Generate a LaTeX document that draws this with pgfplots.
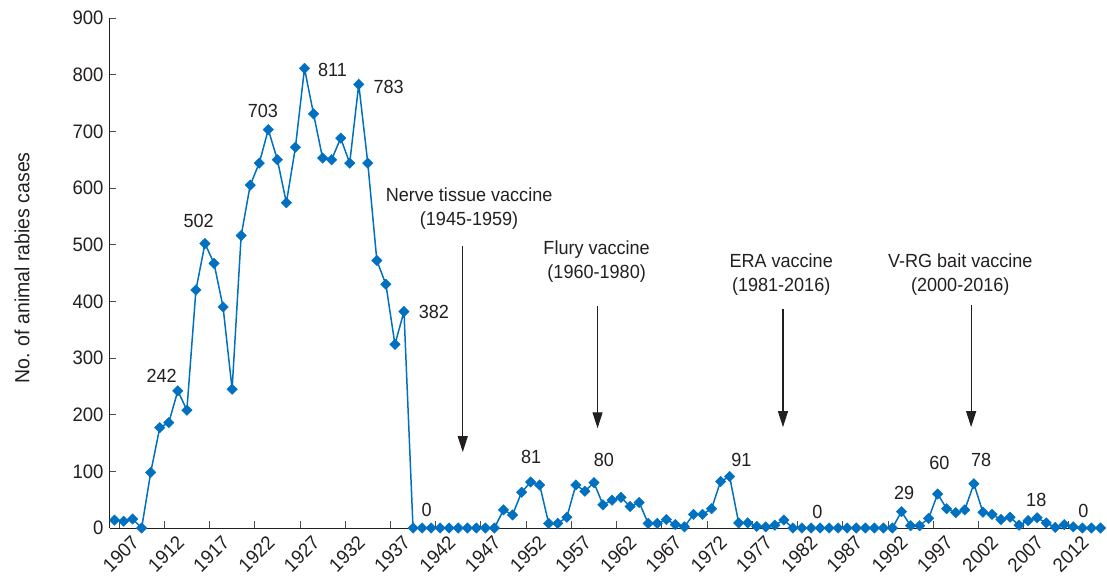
\documentclass[border=0pt]{standalone}
\usepackage{fontspec}
\setmainfont{Liberation Sans}[FakeStretch=0.95]
\usepackage{pgfplots}
\pgfplotsset{compat=1.18}
\usepackage{pgfplotstable}
\usetikzlibrary{arrows.meta}
\definecolor{ser}{RGB}{0,112,192}
\definecolor{txt}{RGB}{35,31,32}

\pgfplotstableread{
year val
1907 14
1908 12
1909 16
1910 0
1911 98
1912 177
1913 186
1914 242
1915 208
1916 420
1917 502
1918 467
1919 390
1920 245
1921 516
1922 605
1923 644
1924 703
1925 650
1926 574
1927 672
1928 811
1929 731
1930 653
1931 650
1932 688
1933 644
1934 783
1935 644
1936 472
1937 430
1938 324
1939 382
1940 0
1941 0
1942 0
1943 0
1944 0
1945 0
1946 0
1947 0
1948 0
1949 0
1950 32
1951 23
1952 63
1953 81
1954 76
1955 8
1956 8
1957 19
1958 76
1959 65
1960 80
1961 41
1962 49
1963 54
1964 38
1965 45
1966 8
1967 8
1968 15
1969 6
1970 2
1971 24
1972 24
1973 34
1974 82
1975 91
1976 9
1977 9
1978 3
1979 2
1980 5
1981 14
1982 0
1983 0
1984 0
1985 0
1986 0
1987 0
1988 0
1989 0
1990 0
1991 0
1992 0
1993 0
1994 29
1995 4
1996 4
1997 17
1998 60
1999 34
2000 27
2001 32
2002 78
2003 28
2004 24
2005 15
2006 19
2007 5
2008 13
2009 18
2010 9
2011 1
2012 6
2013 2
2014 0
2015 0
2016 0
}\rabies

\newcommand{\lblfont}{\fontsize{19bp}{24bp}\selectfont}

\begin{document}
\begin{tikzpicture}
\useasboundingbox (-110bp,-53bp) rectangle (997bp,528bp);
\begin{axis}[
  at={(0,0)}, anchor=south west,
  scale only axis, width=995bp, height=510bp,
  xmin=1906.5, xmax=2016.5, ymin=0, ymax=900,
  clip=false,
  axis x line*=bottom, axis y line*=left,
  axis line style={draw=txt, line width=1bp, -},
  tick align=inside,
  major tick length=6.5bp,
  tick style={draw=txt!80, line width=0.8bp},
  ytick={0,100,...,900},
  xtick={1907.5,1912.5,1917.5,1922.5,1927.5,1932.5,1937.5,1942.5,1947.5,1952.5,1957.5,1962.5,1967.5,1972.5,1977.5,1982.5,1987.5,1992.5,1997.5,2002.5,2007.5,2012.5},
  xticklabels={1907,1912,1917,1922,1927,1932,1937,1942,1947,1952,1957,1962,1967,1972,1977,1982,1987,1992,1997,2002,2007,2012},
  /pgf/number format/assume math mode=true,
  ticklabel style={font=\fontsize{19.5bp}{22bp}\selectfont, text=txt},
  yticklabel style={xshift=-3bp},
  xticklabel style={rotate=45, anchor=east, inner sep=0.5bp, xshift=4.2bp, yshift=-19.6bp},
]
\addplot[ser, line width=1.5bp, mark=square*, mark size=3.7bp,
  mark options={rotate=45, fill=ser, draw=ser, line width=0.4bp}]
  table[x=year, y=val]{\rabies};

\begin{scope}[every node/.style={font=\lblfont, text=txt}]
\node at (axis cs:1912.2,268) {242};
\node at (axis cs:1916.3,541) {502};
\node at (axis cs:1923.4,736) {703};
\node at (axis cs:1931.1,809) {811};
\node at (axis cs:1937.3,779) {783};
\node at (axis cs:1942.3,382) {382};
\node at (axis cs:1941.5,32) {0};
\node at (axis cs:1953.05,125) {81};
\node at (axis cs:1961.1,120) {80};
\node at (axis cs:1976.3,120) {91};
\node at (axis cs:1984.7,29) {0};
\node at (axis cs:1994.3,62) {29};
\node at (axis cs:1998.2,115) {60};
\node at (axis cs:2002.8,120) {78};
\node at (axis cs:2008.9,49) {18};
\node at (axis cs:2014.1,30) {0};

\node[align=center] at (axis cs:1946.2,563.6) {Nerve tissue vaccine\\(1945-1959)};
\node[align=center] at (axis cs:1960.3,469.4) {Flury vaccine\\(1960-1980)};
\node[align=center] at (axis cs:1980.7,446.5) {ERA vaccine\\(1981-2016)};
\node[align=center] at (axis cs:2000.5,446.5) {V-RG bait vaccine\\(2000-2016)};
\end{scope}

\begin{scope}[-{Triangle[width=10bp,length=16bp]}, draw=txt, fill=txt, line width=1.1bp]
\draw (axis cs:1945.5,498) -- (axis cs:1945.5,134);
\draw (axis cs:1960.4,391) -- (axis cs:1960.4,176);
\draw (axis cs:1980.9,387) -- (axis cs:1980.9,178);
\draw (axis cs:2001.7,394) -- (axis cs:2001.7,178);
\end{scope}
\end{axis}
\node[rotate=90, font=\fontsize{20.5bp}{24bp}\selectfont, text=txt] at (-88bp,260bp) {No. of animal rabies cases};
\end{tikzpicture}
\end{document}
